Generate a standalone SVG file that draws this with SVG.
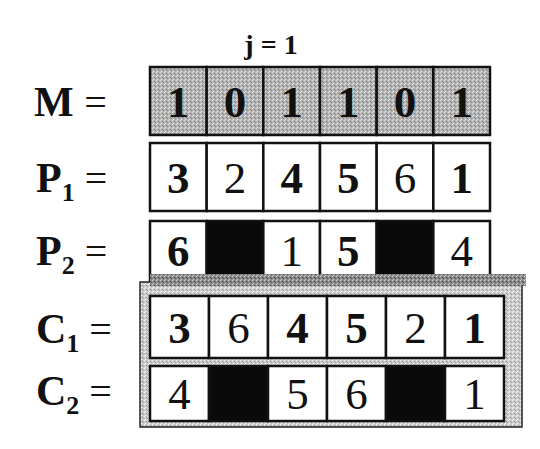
<svg xmlns="http://www.w3.org/2000/svg" width="540" height="449" viewBox="0 0 540 449">
<style>
.lbl{font-family:"Liberation Serif","Times New Roman",serif;font-weight:bold;fill:#111;font-size:42px}
.sub{font-size:26px}
.eq{font-weight:normal;font-size:40px}
.d{font-family:"Liberation Serif","Times New Roman",serif;font-size:45px;text-anchor:middle;fill:#111}
.b{font-weight:bold}
.cell{stroke:#111;stroke-width:2.5}
.w{fill:#fff}
.k{fill:#0a0a0a}
.g{fill:url(#stip)}
</style>
<defs>
<pattern id="stip" width="4" height="4" patternUnits="userSpaceOnUse">
<rect width="4" height="4" fill="#b4b4b4"/>
<rect x="0" y="0" width="1" height="1" fill="#e2e2e2"/>
<rect x="2" y="1" width="1" height="1" fill="#7a7a7a"/>
<rect x="1" y="3" width="1" height="1" fill="#ececec"/>
<rect x="3" y="2" width="1" height="1" fill="#8a8a8a"/>
</pattern>
<pattern id="stip2" width="4" height="4" patternUnits="userSpaceOnUse">
<rect width="4" height="4" fill="#cdcdcd"/>
<rect x="0" y="0" width="1" height="1" fill="#f4f4f4"/>
<rect x="2" y="1" width="1" height="1" fill="#909090"/>
<rect x="1" y="3" width="1" height="1" fill="#fafafa"/>
<rect x="3" y="2" width="1" height="1" fill="#a0a0a0"/>
</pattern>
<pattern id="stip3" width="4" height="4" patternUnits="userSpaceOnUse">
<rect width="4" height="4" fill="#8c8c8c"/>
<rect x="0" y="0" width="1" height="1" fill="#d0d0d0"/>
<rect x="2" y="1" width="1" height="1" fill="#444"/>
<rect x="1" y="3" width="1" height="1" fill="#c8c8c8"/>
<rect x="3" y="2" width="1" height="1" fill="#555"/>
</pattern>
</defs>
<rect width="540" height="449" fill="#fff"/>

<g id="title"><text x="271" y="54" text-anchor="middle" font-family="Liberation Serif, serif" font-weight="bold" font-size="28" fill="#111">j = 1</text></g>

<g id="labels">
<text class="lbl" x="34" y="116">M <tspan class="eq">=</tspan></text>
<text class="lbl" x="36" y="192">P<tspan class="sub" dy="9">1</tspan><tspan class="eq" dy="-9"> =</tspan></text>
<text class="lbl" x="36" y="265">P<tspan class="sub" dy="9">2</tspan><tspan class="eq" dy="-9"> =</tspan></text>
<text class="lbl" x="36" y="343">C<tspan class="sub" dy="9">1</tspan><tspan class="eq" dy="-9"> =</tspan></text>
<text class="lbl" x="36" y="405">C<tspan class="sub" dy="9">2</tspan><tspan class="eq" dy="-9"> =</tspan></text>
</g>

<g id="M">
<rect class="cell g" x="150" y="67" width="56.67" height="68"/>
<rect class="cell g" x="206.67" y="67" width="56.67" height="68"/>
<rect class="cell g" x="263.33" y="67" width="56.67" height="68"/>
<rect class="cell g" x="320" y="67" width="56.67" height="68"/>
<rect class="cell g" x="376.67" y="67" width="56.67" height="68"/>
<rect class="cell g" x="433.33" y="67" width="56.67" height="68"/>
<text class="d b" x="178.3" y="117">1</text>
<text class="d b" x="235" y="117">0</text>
<text class="d b" x="291.7" y="117">1</text>
<text class="d b" x="348.3" y="117">1</text>
<text class="d b" x="405" y="117">0</text>
<text class="d b" x="461.7" y="117">1</text>
</g>

<g id="P1">
<rect class="cell w" x="150" y="143" width="56.67" height="68"/>
<rect class="cell w" x="206.67" y="143" width="56.67" height="68"/>
<rect class="cell w" x="263.33" y="143" width="56.67" height="68"/>
<rect class="cell w" x="320" y="143" width="56.67" height="68"/>
<rect class="cell w" x="376.67" y="143" width="56.67" height="68"/>
<rect class="cell w" x="433.33" y="143" width="56.67" height="68"/>
<text class="d b" x="178.3" y="193">3</text>
<text class="d" x="235" y="193">2</text>
<text class="d b" x="291.7" y="193">4</text>
<text class="d b" x="348.3" y="193">5</text>
<text class="d" x="405" y="193">6</text>
<text class="d b" x="461.7" y="193">1</text>
</g>

<g id="P2">
<rect class="cell w" x="150" y="221" width="56.67" height="60"/>
<rect class="cell k" x="206.67" y="221" width="56.67" height="60"/>
<rect class="cell w" x="263.33" y="221" width="56.67" height="60"/>
<rect class="cell w" x="320" y="221" width="56.67" height="60"/>
<rect class="cell k" x="376.67" y="221" width="56.67" height="60"/>
<rect class="cell w" x="433.33" y="221" width="56.67" height="60"/>
<text class="d b" x="178.3" y="266">6</text>
<text class="d" x="291.7" y="266">1</text>
<text class="d b" x="348.3" y="266">5</text>
<text class="d" x="461.7" y="266">4</text>
</g>

<g id="C">
<rect x="140" y="282" width="382" height="145" fill="url(#stip2)" stroke="#222" stroke-width="1.5"/>
<rect x="150" y="274" width="376" height="12" fill="url(#stip3)"/>
<g id="C1">
<rect class="cell w" x="150" y="296" width="59" height="62"/>
<rect class="cell w" x="209" y="296" width="59" height="62"/>
<rect class="cell w" x="268" y="296" width="59" height="62"/>
<rect class="cell w" x="327" y="296" width="59" height="62"/>
<rect class="cell w" x="386" y="296" width="59" height="62"/>
<rect class="cell w" x="445" y="296" width="59" height="62"/>
<text class="d b" x="179.5" y="343">3</text>
<text class="d" x="238.5" y="343">6</text>
<text class="d b" x="297.5" y="343">4</text>
<text class="d b" x="356.5" y="343">5</text>
<text class="d" x="415.5" y="343">2</text>
<text class="d b" x="474.5" y="343">1</text>
</g>
<g id="C2">
<rect class="cell w" x="150" y="366" width="59" height="55"/>
<rect class="cell k" x="209" y="366" width="59" height="55"/>
<rect class="cell w" x="268" y="366" width="59" height="55"/>
<rect class="cell w" x="327" y="366" width="59" height="55"/>
<rect class="cell k" x="386" y="366" width="59" height="55"/>
<rect class="cell w" x="445" y="366" width="59" height="55"/>
<text class="d" x="179.5" y="409">4</text>
<text class="d" x="297.5" y="409">5</text>
<text class="d" x="356.5" y="409">6</text>
<text class="d" x="474.5" y="409">1</text>
</g>
</g>
</svg>
